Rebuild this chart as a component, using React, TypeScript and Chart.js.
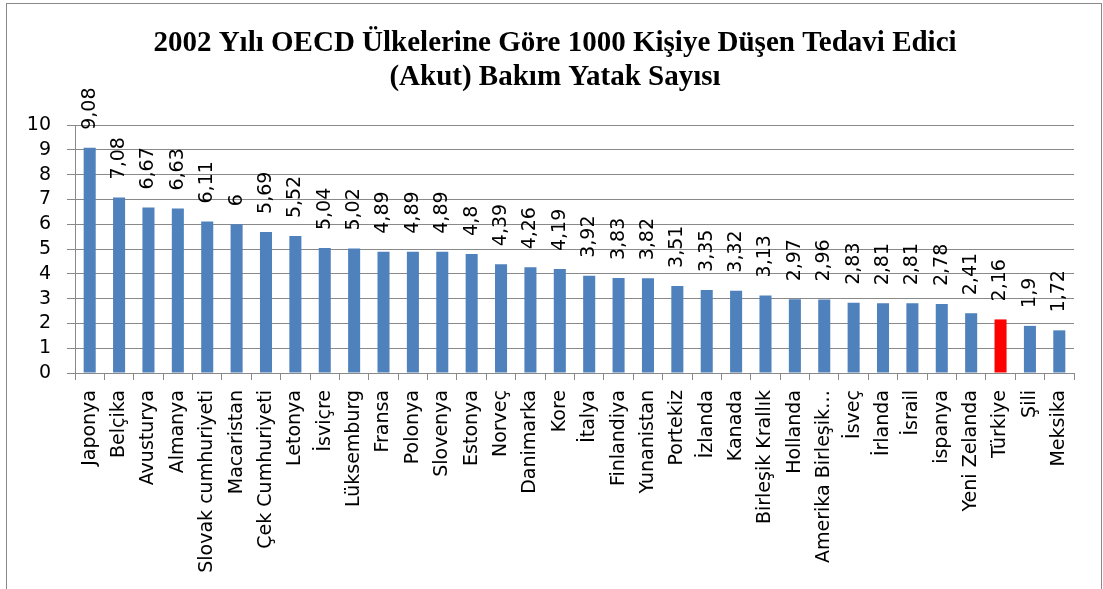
import React, { useEffect, useRef } from 'react';
import { Chart, registerables } from 'chart.js';

Chart.register(...registerables);

const categories: string[] = [
  'Japonya', 'Belçika', 'Avusturya', 'Almanya', 'Slovak cumhuriyeti', 'Macaristan',
  'Çek Cumhuriyeti', 'Letonya', 'İsviçre', 'Lüksemburg', 'Fransa', 'Polonya',
  'Slovenya', 'Estonya', 'Norveç', 'Danimarka', 'Kore', 'İtalya', 'Finlandiya',
  'Yunanistan', 'Portekiz', 'İzlanda', 'Kanada', 'Birleşik Krallık', 'Hollanda',
  'Amerika Birleşik…', 'İsveç', 'İrlanda', 'İsrail', 'ispanya', 'Yeni Zelanda',
  'Türkiye', 'Şili', 'Meksika',
];

const values: number[] = [
  9.08, 7.08, 6.67, 6.63, 6.11, 6, 5.69, 5.52, 5.04, 5.02, 4.89, 4.89, 4.89, 4.8,
  4.39, 4.26, 4.19, 3.92, 3.83, 3.82, 3.51, 3.35, 3.32, 3.13, 2.97, 2.96, 2.83,
  2.81, 2.81, 2.78, 2.41, 2.16, 1.9, 1.72,
];

const highlighted: string[] = ['Türkiye'];

const yTickValues: number[] = [0, 1, 2, 3, 4, 5, 6, 7, 8, 9, 10];

const titleLines: string[] = [
  '2002 Yılı OECD Ülkelerine Göre 1000 Kişiye Düşen Tedavi Edici',
  '(Akut) Bakım Yatak Sayısı',
];

const BLUE = '#4F81BD';
const RED = '#FF0000';
const GRID = '#898989';
const LABEL_FONT = 'DejaVu Sans';
const TITLE_CENTER_X = 555;

const formatValue = (v: number) => String(v).replace('.', ',');

const valueLabelPlugin = {
  id: 'valueLabels',
  afterDatasetsDraw(chart: any) {
    const ctx = chart.ctx as CanvasRenderingContext2D;
    const meta = chart.getDatasetMeta(0);
    const data = chart.data.datasets[0].data as number[];
    ctx.save();
    ctx.font = `19px "${LABEL_FONT}"`;
    ctx.fillStyle = '#000000';
    ctx.textAlign = 'left';
    ctx.textBaseline = 'middle';
    meta.data.forEach((bar: any, i: number) => {
      ctx.save();
      ctx.translate(bar.x, bar.y - 18);
      ctx.rotate(-Math.PI / 2);
      ctx.fillText(formatValue(data[i]), 0, 0);
      ctx.restore();
    });
    ctx.restore();
  },
};

// Centre the title block over the same span as the original picture.
const titleCenterPlugin = {
  id: 'titleCenter',
  afterLayout(chart: any) {
    const t = chart.titleBlock;
    if (!t) return;
    const right = t.right;
    const left = 2 * TITLE_CENTER_X - right;
    t.left = left;
    t.width = right - left;
  },
};

export default function App() {
  const canvasRef = useRef<HTMLCanvasElement | null>(null);

  useEffect(() => {
    if (!canvasRef.current) return;
    const chart = new Chart(canvasRef.current, {
      type: 'bar',
      data: {
        labels: categories,
        datasets: [
          {
            data: values,
            backgroundColor: categories.map((c) => (highlighted.includes(c) ? RED : BLUE)),
            borderWidth: 0,
            barPercentage: 0.41,
            categoryPercentage: 1.0,
          },
        ],
      },
      options: {
        responsive: false,
        animation: false,
        events: [],
        layout: { padding: { left: 0, right: 29, top: 0, bottom: 0 } },
        plugins: {
          legend: { display: false },
          tooltip: { enabled: false },
          title: {
            display: true,
            text: titleLines,
            color: '#000000',
            font: { family: 'Liberation Serif', size: 29, weight: 'bold', lineHeight: '34px' },
            padding: { top: 27, bottom: 30 },
          },
        },
        scales: {
          x: {
            offset: true,
            grid: {
              offset: true,
              drawOnChartArea: false,
              drawTicks: true,
              tickLength: 7,
              color: GRID,
              lineWidth: 1,
            },
            border: { display: true, color: GRID, width: 1 },
            ticks: {
              autoSkip: false,
              maxRotation: 90,
              minRotation: 90,
              padding: 10,
              color: '#000000',
              font: { family: LABEL_FONT, size: 19 },
            },
            afterFit: (scale: any) => {
              scale.height = 216;
            },
          },
          y: {
            min: 0,
            max: 10,
            afterBuildTicks: (scale: any) => {
              scale.ticks = yTickValues.map((v) => ({ value: v }));
            },
            ticks: {
              autoSkip: false,
              stepSize: 1,
              padding: 16,
              color: '#000000',
              font: { family: LABEL_FONT, size: 19 },
            },
            grid: { color: GRID, tickLength: 8, lineWidth: 1 },
            border: { display: true, color: GRID, width: 1 },
            afterFit: (scale: any) => {
              scale.width = 75;
            },
          },
        },
      },
      plugins: [valueLabelPlugin, titleCenterPlugin],
    });
    return () => chart.destroy();
  }, []);

  return (
    <div
      style={{
        position: 'absolute',
        left: 0,
        top: 0,
        width: 1103,
        height: 589,
        overflow: 'hidden',
        background: '#ffffff',
      }}
    >
      <div
        style={{
          position: 'absolute',
          left: 6,
          top: 3,
          width: 1096,
          height: 700,
          boxSizing: 'border-box',
          border: `1px solid ${GRID}`,
        }}
      />
      <canvas
        ref={canvasRef}
        width={1103}
        height={589}
        style={{ position: 'absolute', left: 0, top: 0, width: 1103, height: 589 }}
      />
    </div>
  );
}
